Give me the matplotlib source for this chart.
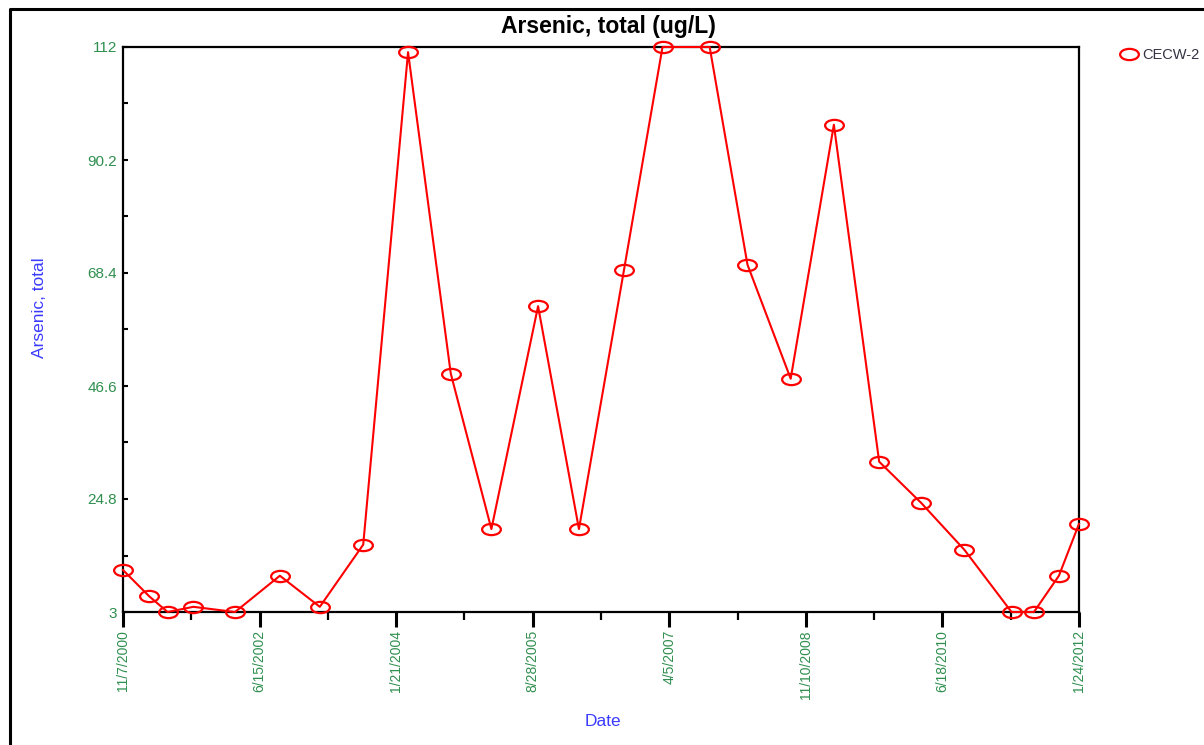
import numpy as np
import pandas as pd
import matplotlib
matplotlib.use("Agg")
import matplotlib.pyplot as plt
import matplotlib.dates as mdates
from matplotlib.path import Path
from matplotlib.lines import Line2D

plt.rcParams['font.family'] = ['Liberation Sans', 'DejaVu Sans']

# sample dates and arsenic results for well CECW-2
sample_dates = [
    '2000-11-07', '2001-02-28', '2001-05-17', '2001-09-04', '2002-03-02',
    '2002-09-10', '2003-02-28', '2003-09-02', '2004-03-12', '2004-09-11',
    '2005-03-04', '2005-09-20', '2006-03-14', '2006-09-23', '2007-03-07',
    '2007-09-25', '2008-03-05', '2008-09-06', '2009-03-10', '2009-09-20',
    '2010-03-20', '2010-09-20', '2011-04-10', '2011-07-15', '2011-10-30',
    '2012-01-24',
]
arsenic = [11.1, 6.0, 3.0, 4.0, 3.0, 10.0, 4.0, 16.0, 111.0, 49.0,
           19.0, 62.0, 19.0, 69.0, 112.0, 112.0, 70.0, 48.0, 97.0, 32.0,
           24.0, 15.0, 3.0, 3.0, 10.0, 20.0]

x_tick_labels = ['11/7/2000', '6/15/2002', '1/21/2004', '8/28/2005',
                 '4/5/2007', '11/10/2008', '6/18/2010', '1/24/2012']
y_ticks = [3, 24.8, 46.6, 68.4, 90.2, 112]

GREEN = '#2f8f4f'
BLUE = '#3b3bff'

# flattened circle used as the point marker
circ = Path.unit_circle()
ellipse = Path(circ.vertices * np.array([1.0, 0.6]), circ.codes)

fig = plt.figure(figsize=(12.04, 7.45), dpi=100)
ax = fig.add_axes([123 / 1204, 1 - 612 / 745, 956 / 1204, 565 / 745])

x = mdates.date2num(pd.to_datetime(sample_dates))
ax.plot(x, arsenic, color='red', lw=1.5, marker=ellipse, ms=13.5,
        mfc='none', mec='red', mew=1.6, clip_on=False, zorder=3)

xt = mdates.date2num(pd.to_datetime(x_tick_labels, format='%m/%d/%Y'))
ax.set_xlim(xt[0], xt[-1])
ax.set_ylim(y_ticks[0], y_ticks[-1])

ax.set_xticks(xt)
ax.set_xticklabels(x_tick_labels, rotation=90, va='top', ha='center')
ax.set_xticks((xt[:-1] + xt[1:]) / 2, minor=True)
ax.set_yticks(y_ticks)
ax.set_yticklabels([f'{v:g}' for v in y_ticks])
yt = np.array(y_ticks)
ax.set_yticks((yt[:-1] + yt[1:]) / 2, minor=True)

ax.tick_params(axis='x', which='major', direction='out', length=11, width=2.2,
               pad=2, labelsize=10, labelcolor=GREEN, top=False)
ax.tick_params(axis='x', which='minor', direction='out', length=6, width=1.6,
               top=False)
ax.tick_params(axis='y', which='both', direction='in', length=3.6, width=1.5,
               pad=4.5, labelsize=11, labelcolor=GREEN, right=False)

for sp in ax.spines.values():
    sp.set_linewidth(1.6)
    sp.set_color('black')

fig.text(608 / 1204, 1 - 27 / 745, 'Arsenic, total (ug/L)', ha='center',
         va='center', fontsize=16.5, fontweight='bold', color='black')
fig.text(40 / 1204, 1 - 308 / 745, 'Arsenic, total', rotation=90,
         ha='center', va='center', fontsize=12.5, color=BLUE)
fig.text(603 / 1204, 1 - 722 / 745, 'Date', ha='center', va='center',
         fontsize=12.5, color=BLUE)

# legend entry shows only the marker
handle = Line2D([], [], ls='none', marker=ellipse, ms=13.5, mfc='none',
                mec='red', mew=1.6)
fig.legend(handles=[handle], labels=['CECW-2'], loc='center left',
           bbox_to_anchor=(1120 / 1204, 1 - 55 / 745), frameon=False,
           handlelength=1.3, handletextpad=0.25, borderpad=0,
           borderaxespad=0, fontsize=10.5, labelcolor='#333344')

# page border
fig.add_artist(Line2D([10 / 1204, 10 / 1204, 1.01],
                      [-0.01, 1 - 8.5 / 745, 1 - 8.5 / 745],
                      transform=fig.transFigure, color='black', lw=2.2))

fig.savefig('out.png', dpi=100, facecolor='white')
